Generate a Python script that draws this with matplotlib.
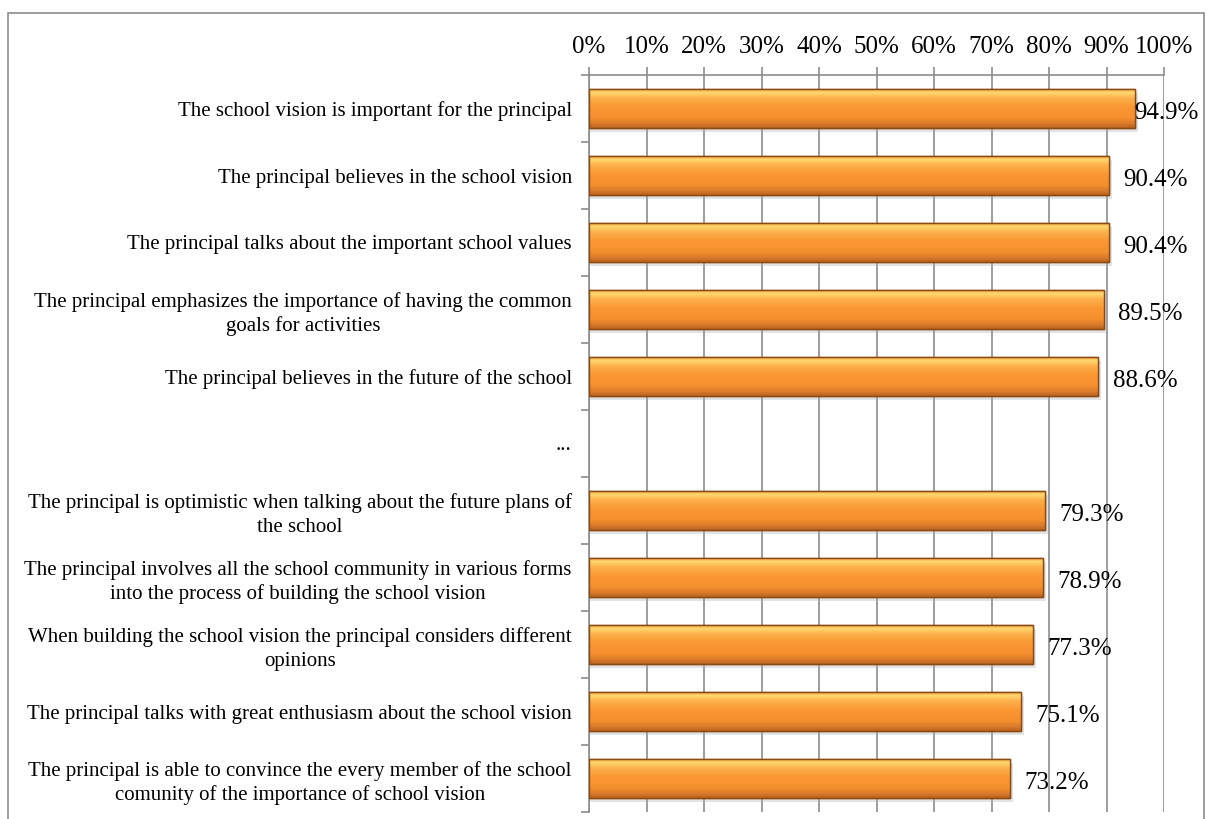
import numpy as np
import matplotlib.pyplot as plt
from matplotlib.colors import LinearSegmentedColormap
from matplotlib.patches import Rectangle

plt.rcParams['font.family'] = ['Liberation Serif', 'DejaVu Serif']

categories = [
    'The school vision is important for the principal',
    'The principal believes in the school vision',
    'The principal talks about the important school values',
    'The principal emphasizes the importance of having the common\ngoals for activities',
    'The principal believes in the future of the school',
    '...',
    'The principal is optimistic when talking about the future plans of\nthe school',
    'The principal involves all the school community in various forms\ninto the process of building the school vision',
    'When building the school vision the principal considers different\nopinions',
    'The principal talks with great enthusiasm about the school vision',
    'The principal is able to convince the every member of the school\ncomunity of the importance of school vision',
]
values = [94.9, 90.4, 90.4, 89.5, 88.6, np.nan, 79.3, 78.9, 77.3, 75.1, 73.2]
xticks = list(range(0, 101, 10))

fig = plt.figure(figsize=(12.08, 8.19), dpi=100)
ax = fig.add_axes([589 / 1208, 1 - 812 / 819, (1164 - 589) / 1208, (812 - 75) / 819])

# outer chart border
fig.patches.append(Rectangle((8 / 1208, -0.05), 1196 / 1208, 1.05 - 13 / 819,
                             transform=fig.transFigure, fill=False,
                             edgecolor='#8c8c8c', linewidth=1.2))

ypos = np.arange(len(categories))
h = 0.58
# top of bar -> bottom of bar
grad = LinearSegmentedColormap.from_list('bevel', [
    (0.0, '#f5a040'), (0.08, '#ffd870'), (0.22, '#fdb24c'), (0.45, '#fb9834'),
    (0.75, '#f48f2e'), (0.9, '#d9792a'), (1.0, '#b8631f')])
g = np.linspace(0, 1, 64).reshape(-1, 1)

for y, v in zip(ypos, values):
    if np.isnan(v):
        continue
    # soft shadow
    ax.barh(y + 0.06, v + 0.5, height=h, color='#b0b0b0', alpha=0.35,
            linewidth=0, zorder=2)
    bar = ax.barh(y, v, height=h, color='#f8922e', edgecolor='#8a4a12',
                  linewidth=1.0, zorder=3)[0]
    im = ax.imshow(g, cmap=grad, extent=[0, v, y + h / 2, y - h / 2],
                   aspect='auto', zorder=3.5, origin='upper')
    im.set_clip_path(bar)
    ax.barh(y, v, height=h, fill=False, edgecolor='#8a4a12', linewidth=1.0,
            zorder=4)
    ax.text(min(v + 2.5, 94.9), y + 0.06, f'{v:.1f}%', va='center', ha='left',
            fontsize=18, color='black', zorder=5, clip_on=False)

ax.set_xlim(0, 100)
ax.set_ylim(len(categories) - 0.5, -0.5)
ax.set_xticks(xticks)
ax.set_xticklabels([f'{t}%' for t in xticks], fontsize=18)
ax.xaxis.tick_top()
ax.tick_params(axis='x', direction='out', length=6, color='#8c8c8c', width=1.2, pad=6)

ax.set_yticks(ypos)
ax.set_yticklabels(categories, fontsize=15, linespacing=1.3)
ax.tick_params(axis='y', length=0, pad=0)
# center-aligned multi-line labels whose right edge sits next to the axis
for lbl in ax.get_yticklabels():
    lbl.set_horizontalalignment('right')
    lbl.set_multialignment('center')
    lbl.set_x(-0.03)
ax.set_yticks(np.arange(-0.5, len(categories), 1), minor=True)
ax.tick_params(axis='y', which='minor', length=6, color='#8c8c8c', width=1.2)

ax.grid(axis='x', color='#8c8c8c', linewidth=1.2, zorder=0)
ax.set_axisbelow(True)
for s in ['right', 'bottom']:
    ax.spines[s].set_visible(False)
for s in ['top', 'left']:
    ax.spines[s].set_color('#8c8c8c')
    ax.spines[s].set_linewidth(1.2)

fig.savefig('out.png', dpi=100)
